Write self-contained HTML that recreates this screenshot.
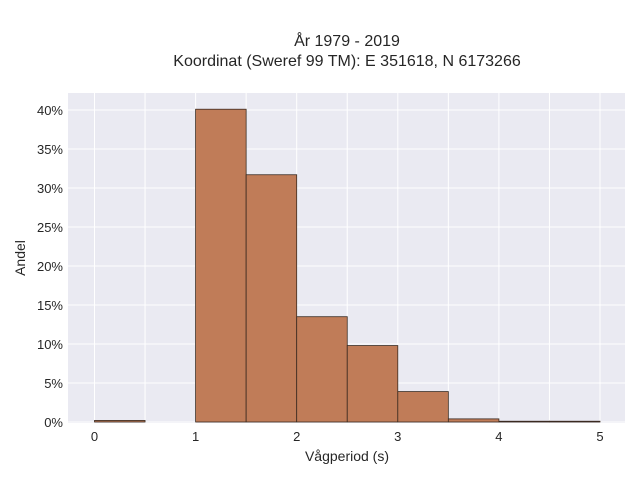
<!DOCTYPE html>
<html><head><meta charset="utf-8"><style>
html,body{margin:0;padding:0;background:#fff;width:640px;height:480px;overflow:hidden}
text{font-family:"Liberation Sans",sans-serif;fill:#262626}
</style></head><body>
<svg id="chart" width="640" height="480" xmlns="http://www.w3.org/2000/svg">
<text x="347" y="46" font-size="16" text-anchor="middle">År 1979 - 2019</text>
<text x="347" y="66" font-size="16" text-anchor="middle">Koordinat (Sweref 99 TM): E 351618, N 6173266</text>
<rect x="68" y="93" width="557" height="330" fill="#eaeaf2"/>
<g id="grid"></g>
<g id="bars"></g>
<g id="ticks"></g>
<text x="347" y="461" font-size="14" text-anchor="middle">Vågperiod (s)</text>
<text x="0" y="0" font-size="14" text-anchor="middle" transform="translate(25,258) rotate(-90)">Andel</text>
</svg>
<script>
const binEdges=[0,0.5,1,1.5,2,2.5,3,3.5,4,4.5,5];
const shares=[0.2,0,40.1,31.7,13.5,9.8,3.9,0.4,0.1,0.1];
const xTicks=[0,1,2,3,4,5];
const xGrid=[0,0.5,1,1.5,2,2.5,3,3.5,4,4.5,5];
const yTicks=[0,5,10,15,20,25,30,35,40];
const yTickLabels=["0%","5%","10%","15%","20%","25%","30%","35%","40%"];
const NS="http://www.w3.org/2000/svg";
function xs(v){return 94.5+v*101.1;}
function ys(v){return 422-v*7.8;}
function mk(t,a,p){const e=document.createElementNS(NS,t);for(const k in a)e.setAttribute(k,a[k]);p.appendChild(e);return e;}
const grid=document.getElementById('grid'),bars=document.getElementById('bars'),ticks=document.getElementById('ticks');
xGrid.forEach(v=>{const l=mk('line',{x1:xs(v),x2:xs(v),y1:93,y2:423,stroke:'#fff','stroke-width':1},grid);

});
yTicks.forEach((v,i)=>{const l=mk('line',{x1:68,x2:625,y1:ys(v),y2:ys(v),stroke:'#fff','stroke-width':1},grid);


const t=mk('text',{x:63,y:ys(v)+5,'font-size':13,'text-anchor':'end'},ticks);t.textContent=yTickLabels[i];

});
xTicks.forEach(v=>{const t=mk('text',{x:xs(v),y:441,'font-size':13,'text-anchor':'middle'},ticks);t.textContent=v;

});
shares.forEach((v,i)=>{if(v<=0)return;const x0=xs(binEdges[i]),x1=xs(binEdges[i+1]);
const r=mk('rect',{x:x0,y:ys(v),width:x1-x0,height:ys(0)-ys(v),fill:'#c07c58',stroke:'#3a2a20','stroke-width':0.8},bars);

});
</script>
</body></html>
